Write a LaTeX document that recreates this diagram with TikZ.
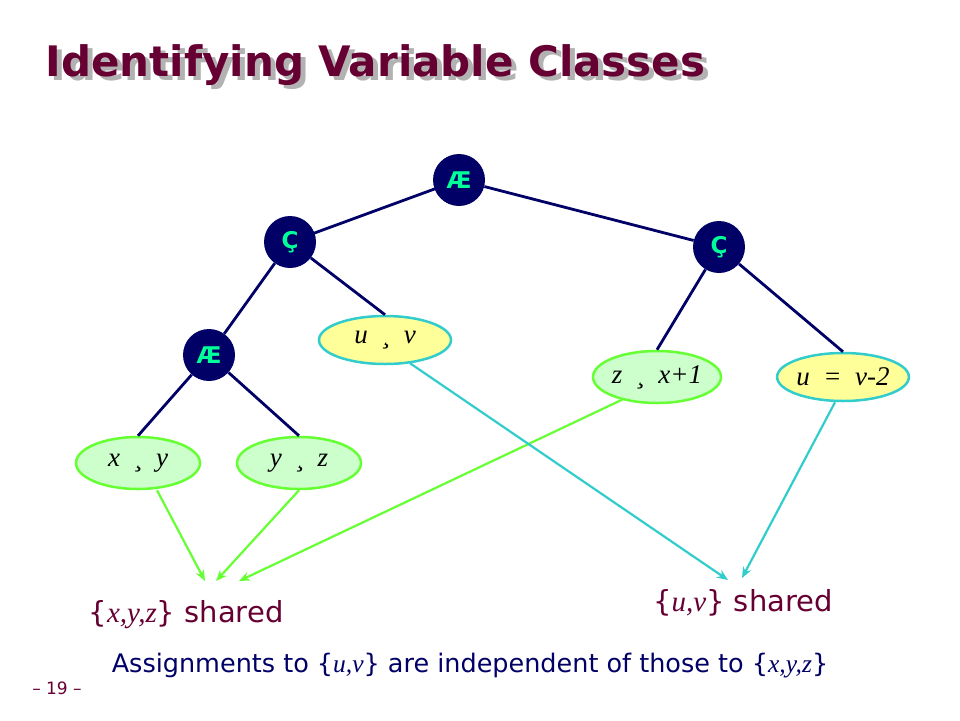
\documentclass[tikz,border=0pt]{standalone}
\usepackage{fontspec}
\setmainfont{DejaVu Sans}
\newfontfamily\serifit{Liberation Serif}
\usetikzlibrary{shapes.geometric,arrows.meta}
\definecolor{navy}{RGB}{0,0,102}
\definecolor{wine}{RGB}{102,0,51}
\definecolor{mint}{RGB}{0,255,153}
\definecolor{yel}{RGB}{255,255,153}
\definecolor{turq}{RGB}{51,204,204}
\definecolor{lgreen}{RGB}{204,255,204}
\definecolor{bgreen}{RGB}{102,255,51}
\newcommand{\iv}[1]{{\serifit\itshape #1}}
\tikzset{
 op/.style={circle,fill=navy,minimum size=52pt,inner sep=0pt,text=mint,font=\bfseries\fontsize{23}{23}\selectfont},
 yell/.style={ellipse,draw=turq,line width=2.5pt,fill=yel,minimum width=#1,minimum height=48pt,inner sep=0pt,font=\serifit\itshape\fontsize{27}{27}\selectfont},
 grn/.style={ellipse,draw=bgreen,line width=2.5pt,fill=lgreen,minimum width=#1,minimum height=52pt,inner sep=0pt,font=\serifit\itshape\fontsize{27}{27}\selectfont},
 tree/.style={navy,line width=2.8pt},
 ga/.style={bgreen,line width=2.2pt,-{Stealth[length=11pt,width=9pt]}},
 ta/.style={turq,line width=2.2pt,-{Stealth[length=11pt,width=9pt]}},
}
\begin{document}
\begin{tikzpicture}[x=1pt,y=-1pt]
\useasboundingbox (0,0) rectangle (960,720);
\node[anchor=west,text=gray!60,font=\bfseries\fontsize{42}{42}\selectfont] (shadow) at (47,69) {Identifying Variable Classes};
\node[anchor=west,text=wine,font=\bfseries\fontsize{42}{42}\selectfont] (title) at (42,65) {Identifying Variable Classes};
\draw[tree] (459,180) coordinate (rc) -- (290,242) coordinate (clc);
\node[op] (r) at (459,180) {Æ};
\node[op] (cl) at (290,242) {Ç};
\node[op] (cr) at (719,247) {Ç};
\node[op] (al) at (209,355) {Æ};
\node[yell=132pt] (uv) at (385,340) {u \ ¸ \ v};
\node[grn=128pt] (zx) at (657,377) {z \ ¸ \ x+1};
\node[yell=130pt] (uv2) at (843,377) {u \ = \ v-2};
\node[grn=124pt] (xy) at (138,463) {x \ ¸ \ y};
\node[grn=124pt] (yz) at (299,463) {y \ ¸ \ z};
\draw[tree] (r)--(cr);
\draw[tree] (cl)--(al); \draw[tree] (cl)--(uv.north);
\draw[tree] (cr)--(zx.north); \draw[tree] (cr)--(uv2.north);
\draw[tree] (al)--(xy.north); \draw[tree] (al)--(yz.north);
\draw[ga] (xy.south) ++(19,0) -- (205,581);
\draw[ga] (yz.south) -- (216,581);
\draw[ga] (zx.south) ++(-34,-5) -- (239,581);
\draw[ta] (uv.south) ++(25,-2) -- (728,580);
\draw[ta] (uv2.south) ++(-8,0) -- (742,578);
\node[text=wine,font=\fontsize{29}{29}\selectfont] (l1) at (186,615) {\{\iv{x,y,z}\} shared};
\node[text=wine,font=\fontsize{29}{29}\selectfont] (l2) at (743,603) {\{\iv{u,v}\} shared};
\node[text=navy,font=\fontsize{25.5}{25.5}\selectfont] (l3) at (470,666) {Assignments to \{\iv{u,v}\} are independent of those to \{\iv{x,y,z}\}};
\node[text=wine,font=\fontsize{17}{17}\selectfont] (pg) at (57,688) {– 19 –};
\end{tikzpicture}
\end{document}
